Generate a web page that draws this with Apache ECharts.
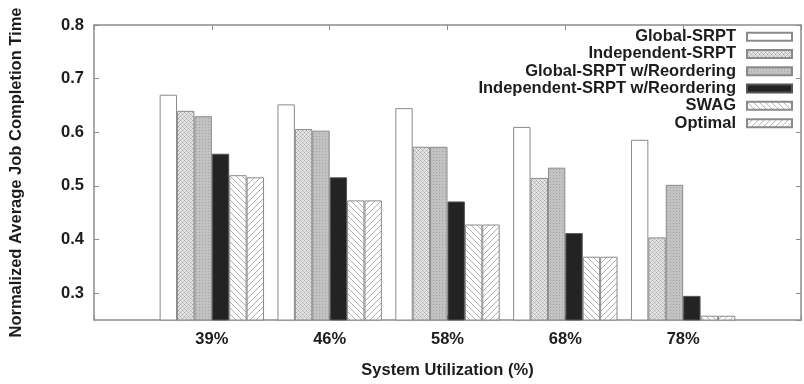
<!DOCTYPE html>
<html>
<head>
<meta charset="utf-8">
<script src="https://cdn.jsdelivr.net/npm/echarts@6/dist/echarts.min.js"></script>
<style>
  html, body { margin: 0; padding: 0; background: #fff; }
  #chart { width: 804px; height: 384px; }
</style>
</head>
<body>
<div id="chart"></div>
<script>
// Utilization levels on the x axis
const categories = ['39%', '46%', '58%', '68%', '78%'];

// Normalized average job completion time per scheduler
const globalSrpt = [0.670, 0.652, 0.645, 0.610, 0.586];
const independentSrpt = [0.640, 0.606, 0.573, 0.515, 0.404];
const globalSrptReorder = [0.630, 0.603, 0.573, 0.534, 0.502];
const independentSrptReorder = [0.560, 0.516, 0.471, 0.412, 0.295];
const swag = [0.520, 0.473, 0.428, 0.368, 0.258];
const optimal = [0.516, 0.473, 0.428, 0.368, 0.258];

const seriesNames = [
  'Global-SRPT',
  'Independent-SRPT',
  'Global-SRPT w/Reordering',
  'Independent-SRPT w/Reordering',
  'SWAG',
  'Optimal'
];

// Fill patterns drawn on small tiles
function tile(size, draw) {
  const c = document.createElement('canvas');
  c.width = size; c.height = size;
  const ctx = c.getContext('2d');
  draw(ctx, size);
  return { image: c, repeat: 'repeat' };
}
const crossHatch = tile(4, (ctx, s) => {
  ctx.fillStyle = '#e4e4e4'; ctx.fillRect(0, 0, s, s);
  ctx.fillStyle = '#a8a8a8';
  ctx.fillRect(0, 0, 1, 1); ctx.fillRect(2, 2, 1, 1);
  ctx.fillStyle = '#c4c4c4';
  ctx.fillRect(1, 1, 1, 1); ctx.fillRect(3, 3, 1, 1);
  ctx.fillRect(3, 1, 1, 1); ctx.fillRect(1, 3, 1, 1);
});
const grayDots = tile(3, (ctx, s) => {
  ctx.fillStyle = '#c2c2c2'; ctx.fillRect(0, 0, s, s);
  ctx.fillStyle = '#a5a5a5'; ctx.fillRect(1, 1, 1, 1);
});
const backSlash = tile(6, (ctx, s) => {
  ctx.fillStyle = '#ffffff'; ctx.fillRect(0, 0, s, s);
  ctx.strokeStyle = '#b0b0b0'; ctx.lineWidth = 1;
  ctx.beginPath();
  ctx.moveTo(-1, -1); ctx.lineTo(s + 1, s + 1);
  ctx.moveTo(-1, s - 1); ctx.lineTo(1, s + 1);
  ctx.moveTo(s - 1, -1); ctx.lineTo(s + 1, 1);
  ctx.stroke();
});
const slash = tile(6, (ctx, s) => {
  ctx.fillStyle = '#ffffff'; ctx.fillRect(0, 0, s, s);
  ctx.strokeStyle = '#b0b0b0'; ctx.lineWidth = 1;
  ctx.beginPath();
  ctx.moveTo(-1, s + 1); ctx.lineTo(s + 1, -1);
  ctx.moveTo(-1, 1); ctx.lineTo(1, -1);
  ctx.moveTo(s - 1, s + 1); ctx.lineTo(s + 1, s - 1);
  ctx.stroke();
});

const fills = ['#ffffff', crossHatch, grayDots, '#232323', backSlash, slash];
const values = [globalSrpt, independentSrpt, globalSrptReorder, independentSrptReorder, swag, optimal];

// Empty slots on both ends give the axis one spare unit of room each side
const axisCategories = [''].concat(categories, ['']);
const pad = arr => [null].concat(arr, [null]);

const font = "'Liberation Sans', Arial, Helvetica, sans-serif";
const textColor = '#1c1c1c';
const frameColor = '#8c8c8c';

const chart = echarts.init(document.getElementById('chart'), null, { renderer: 'canvas' });

chart.setOption({
  animation: false,
  backgroundColor: '#ffffff',
  textStyle: { fontFamily: font },
  grid: { left: 87, top: 25, width: 722, height: 307, containLabel: false },
  legend: {
    orient: 'vertical',
    right: 11,
    top: 28,
    align: 'right',
    icon: 'rect',
    itemWidth: 45,
    itemHeight: 8,
    itemGap: 0,
    padding: 0,
    selectedMode: false,
    data: seriesNames,
    textStyle: {
      fontFamily: font, fontWeight: 'bold', fontSize: 16.5,
      color: textColor, lineHeight: 17.3, padding: [0, 6, 0, 0]
    }
  },
  xAxis: [
    {
      type: 'category',
      position: 'bottom',
      data: axisCategories,
      boundaryGap: false,
      name: 'System Utilization (%)',
      nameLocation: 'middle',
      nameGap: 42,
      nameTextStyle: { fontFamily: font, fontWeight: 'bold', fontSize: 16.5, color: textColor },
      axisLine: { lineStyle: { color: frameColor, width: 1.5 } },
      axisTick: { inside: true, length: 5, lineStyle: { color: frameColor } },
      axisLabel: { margin: 11, fontFamily: font, fontWeight: 'bold', fontSize: 16.5, color: textColor },
      splitLine: { show: false }
    },
    {
      type: 'category',
      position: 'top',
      data: axisCategories,
      boundaryGap: false,
      axisLine: { lineStyle: { color: frameColor, width: 1.5 } },
      axisTick: { inside: true, length: 5, lineStyle: { color: frameColor } },
      axisLabel: { show: false },
      splitLine: { show: false }
    }
  ],
  yAxis: [
    {
      type: 'value',
      min: 0.25,
      max: 0.8,
      splitNumber: 5,
      name: 'Normalized Average Job Completion Time',
      nameLocation: 'middle',
      nameGap: 69,
      nameRotate: 90,
      nameTextStyle: { fontFamily: font, fontWeight: 'bold', fontSize: 16.5, color: textColor },
      axisLine: { show: true, lineStyle: { color: frameColor, width: 1.5 } },
      axisTick: { show: true, inside: true, length: 5, lineStyle: { color: frameColor } },
      axisLabel: {
        margin: 10, showMinLabel: false,
        fontFamily: font, fontWeight: 'bold', fontSize: 16.5, color: textColor,
        formatter: v => v.toFixed(1)
      },
      splitLine: { show: false }
    },
    {
      type: 'value',
      min: 0.25,
      max: 0.8,
      splitNumber: 5,
      position: 'right',
      axisLine: { show: true, lineStyle: { color: frameColor, width: 1.5 } },
      axisTick: { show: true, inside: true, length: 5, lineStyle: { color: frameColor } },
      axisLabel: { show: false },
      splitLine: { show: false }
    }
  ],
  series: seriesNames.map((name, i) => ({
    name: name,
    type: 'bar',
    xAxisIndex: 0,
    yAxisIndex: 0,
    barWidth: 17.4,
    barGap: '0%',
    data: pad(values[i]),
    itemStyle: {
      color: fills[i],
      borderColor: i === 3 ? '#555555' : '#8a8a8a',
      borderWidth: 1
    },
    emphasis: { disabled: true }
  }))
});
</script>
</body>
</html>
